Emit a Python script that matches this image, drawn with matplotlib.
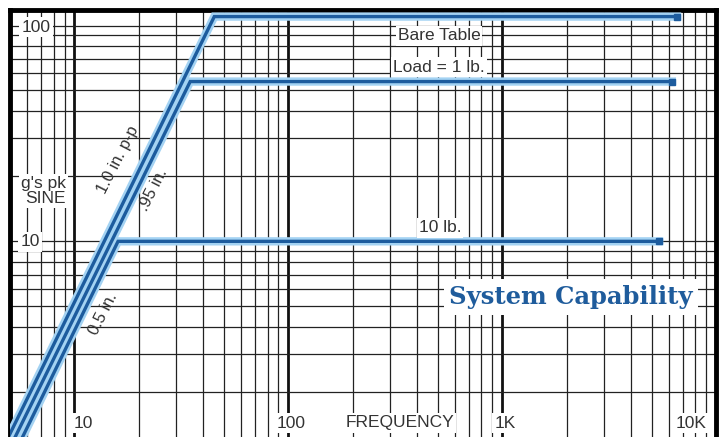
import numpy as np
import matplotlib
matplotlib.use("Agg")
import matplotlib.pyplot as plt

plt.rcParams['font.family'] = ['Liberation Sans', 'DejaVu Sans']

# Dati: (inizio diagonale, ginocchio, fine orizzontale)
series_names = ["Bare Table", "Load = 1 lb.", "10 lb."]
start_freq = [4.42, 4.75, 5.15]
start_g = [1.0, 1.0, 1.0]
knee_freq = [45.1, 34.8, 16.0]
knee_g = [110, 55, 10]
end_freq = [6580, 6220, 5420]

x_labels = ["10", "100", "1K", "10K"]
x_label_pos = [10, 100, 1000, 10000]

blue = '#1d5c9e'
halo = '#a4d3f3'
txt = '#333333'

fig = plt.figure(figsize=(7.22, 4.37), dpi=100)
ax = fig.add_axes([10 / 722, 0, 706 / 722, 1 - 10 / 437])
ax.set_xscale('log')
ax.set_yscale('log')
ax.set_xlim(5, 10000)
ax.set_ylim(1.24, 118)

# Griglia
ax.xaxis.grid(True, which='major', color='#111111', lw=2.0)
ax.xaxis.grid(True, which='minor', color='#222222', lw=0.9)
ax.yaxis.grid(True, which='both', color='#222222', lw=0.9)
ax.tick_params(which='both', length=0, labelbottom=False, labelleft=False)
ax.set_axisbelow(True)
for s in ['left', 'top', 'right']:
    ax.spines[s].set_linewidth(3.5)
    ax.spines[s].set_color('black')
ax.spines['bottom'].set_visible(False)

# Curve
for i in range(len(series_names)):
    xs = [start_freq[i], knee_freq[i], end_freq[i]]
    ys = [start_g[i], knee_g[i], knee_g[i]]
    ax.plot(xs, ys, color=halo, lw=6, solid_joinstyle='miter', zorder=3)
    ax.plot(xs, ys, color=blue, lw=2.4, solid_joinstyle='miter', zorder=4)
    ax.plot(end_freq[i], knee_g[i], marker='s', ms=4, color=blue, zorder=5)

box = dict(facecolor='white', edgecolor='none', pad=1.5)

def px(x, y):
    return (x - 10) / 706, (437 - y) / 427

tf = ax.transAxes
fs = 12.5
ax.text(*px(439, 36), "Bare Table", transform=tf, ha='center', va='center', fontsize=fs, color=txt, bbox=box, zorder=6)
ax.text(*px(439, 67), "Load = 1 lb.", transform=tf, ha='center', va='center', fontsize=fs, color=txt, bbox=box, zorder=6)
ax.text(*px(440, 228), "10 lb.", transform=tf, ha='center', va='center', fontsize=fs, color=txt, bbox=box, zorder=6)

ax.text(*px(118, 160), "1.0 in. p-p", transform=tf, ha='center', va='center', rotation=63, fontsize=12, color=txt, zorder=6)
ax.text(*px(153, 190), ".95 in.", transform=tf, ha='center', va='center', rotation=63, fontsize=12, color=txt, zorder=6)
ax.text(*px(103, 314), "0.5 in.", transform=tf, ha='center', va='center', rotation=63, fontsize=12, color=txt, zorder=6)

ax.text(*px(36, 27), "100", transform=tf, ha='center', va='center', fontsize=fs, color=txt, bbox=box, zorder=6)
ax.text(*px(30, 242), "10", transform=tf, ha='center', va='center', fontsize=fs, color=txt, bbox=box, zorder=6)
ax.text(*px(66, 191), "g's pk\nSINE", transform=tf, ha='right', va='center', fontsize=fs, color=txt,
        linespacing=1.05, bbox=box, zorder=6)

for lab, pos in zip(x_labels, x_label_pos):
    xa = (np.log10(pos) - np.log10(5)) / (np.log10(10000) - np.log10(5))
    off = {"10": 0.012, "100": 0.004, "1K": 0.004, "10K": -0.035}[lab]
    ax.text(xa + off, px(0, 423)[1], lab, transform=tf, ha='center', va='center', fontsize=fs,
            color=txt, bbox=box, zorder=6)
ax.text(*px(400, 423), "FREQUENCY", transform=tf, ha='center', va='center', fontsize=fs, color=txt, bbox=box, zorder=6)

ax.text(*px(571, 297), "System Capability", transform=tf, ha='center', va='center', fontsize=17.5,
        family='DejaVu Serif', weight='bold', color='#1f5c9c',
        bbox=dict(facecolor='white', edgecolor='none', pad=4), zorder=6)

fig.savefig("out.png", dpi=100)
